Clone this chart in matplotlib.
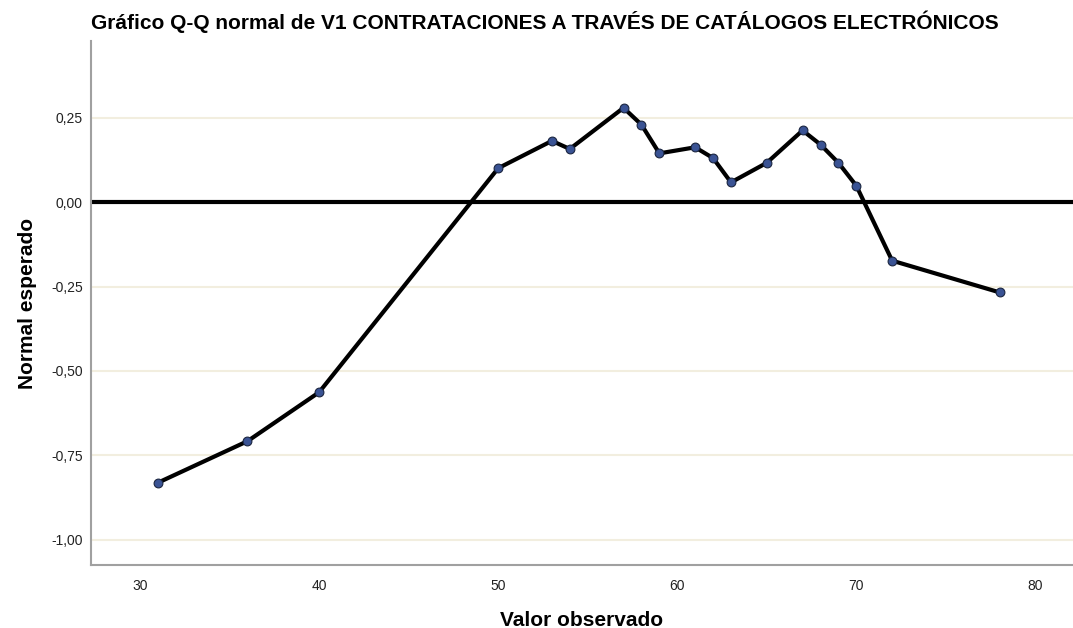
import numpy as np
from matplotlib import pyplot as plt
from matplotlib.ticker import FuncFormatter

plt.rcParams['font.family'] = ['Liberation Sans', 'DejaVu Sans']

# Observed values and detrended expected normal deviations
observed = [31, 36, 40, 50, 53, 54, 57, 58, 59, 61, 62, 63, 65, 67, 68, 69, 70, 72, 78]
expected = [-0.831, -0.708, -0.563, 0.101, 0.182, 0.158, 0.280, 0.230, 0.145, 0.163,
            0.131, 0.059, 0.117, 0.213, 0.171, 0.117, 0.049, -0.173, -0.267]
y_ticks = [-1.0, -0.75, -0.5, -0.25, 0.0, 0.25]
x_ticks = [30, 40, 50, 60, 70, 80]

fig = plt.figure(figsize=(10.73, 6.28), dpi=100)
ax = fig.add_axes([0.0848, 0.1003, 0.9152, 0.8344])

# light horizontal grid
for yv in y_ticks:
    ax.axhline(yv, color='#f2eedf', linewidth=1.5, zorder=0)

ax.axhline(0, color='black', linewidth=3, zorder=2)
ax.plot(observed, expected, color='black', linewidth=3, zorder=3)
ax.scatter(observed, expected, s=40, color='#3a5394', edgecolors='#1a2540',
           linewidths=0.8, zorder=4)

ax.set_xlim(27.26, 82.1)
ax.set_ylim(-1.075, 0.478)
ax.set_xticks(x_ticks)
ax.set_yticks(y_ticks)
ax.yaxis.set_major_formatter(FuncFormatter(lambda v, p: f'{v:.2f}'.replace('.', ',')))
ax.tick_params(length=0, labelsize=10, colors='#222222')
ax.tick_params(axis='y', pad=6)
ax.tick_params(axis='x', pad=10)

for side in ['top', 'right']:
    ax.spines[side].set_visible(False)
for side in ['left', 'bottom']:
    ax.spines[side].set_color('#a0a0a0')
    ax.spines[side].set_linewidth(1.5)

ax.set_title('Gráfico Q-Q normal de V1 CONTRATACIONES A TRAVÉS DE CATÁLOGOS ELECTRÓNICOS',
             fontsize=15, fontweight='bold', loc='left', x=0.0, pad=9)
ax.set_xlabel('Valor observado', fontsize=15, fontweight='bold', labelpad=13)
ax.set_ylabel('Normal esperado', fontsize=15, fontweight='bold', labelpad=10)

plt.savefig('out.png')
